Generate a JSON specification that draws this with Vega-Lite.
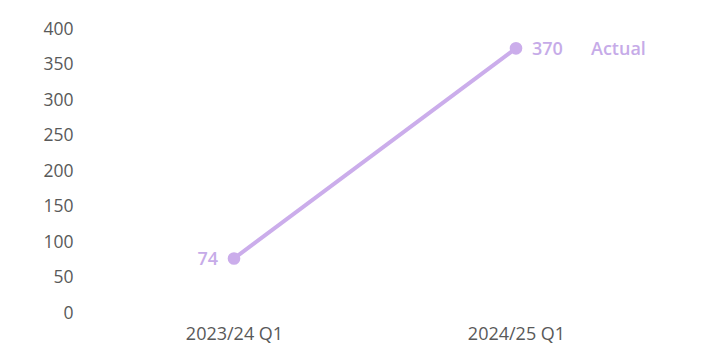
{
  "$schema": "https://vega.github.io/schema/vega-lite/v6.json",
  "autosize": {"type": "none"},
  "padding": {"left": 93, "top": 27, "right": 45, "bottom": 47},
  "width": 564,
  "height": 284,
  "background": "white",
  "config": {"view": {"stroke": null}, "font": "Open Sans"},
  "data": {"values": [
    {"quarter": "2023/24 Q1", "value": 74, "series": "Actual", "side": "left"},
    {"quarter": "2024/25 Q1", "value": 370, "series": "Actual", "side": "right"}
  ]},
  "encoding": {
    "x": {"field": "quarter", "type": "nominal", "sort": null,
      "scale": {"paddingInner": 0, "paddingOuter": 0},
      "axis": {"title": null, "domain": false, "ticks": false, "labelAngle": 0, "labelFontSize": 18, "labelColor": "#595959", "labelPadding": 14, "labelFont": "Open Sans"}},
    "y": {"field": "value", "type": "quantitative",
      "scale": {"domain": [0, 400]},
      "axis": {"title": null, "domain": false, "ticks": false, "grid": false, "values": [0,50,100,150,200,250,300,350,400], "labelFontSize": 17.5, "labelColor": "#595959", "labelPadding": 20, "labelOffset": 2, "labelFont": "Open Sans"}}
  },
  "layer": [
    {"mark": {"type": "line", "color": "#CBADEB", "strokeWidth": 4}, "encoding": {}},
    {"mark": {"type": "point", "filled": true, "color": "#CBADEB", "size": 160, "opacity": 1}, "encoding": {}},
    {"transform": [{"filter": "datum.side == 'left'"}],
     "mark": {"type": "text", "align": "right", "baseline": "middle", "dx": -16, "dy": 2, "fontSize": 18, "fontWeight": 600, "color": "#C6ABE8"},
     "encoding": {"text": {"field": "value"}}},
    {"transform": [{"filter": "datum.side == 'right'"}],
     "mark": {"type": "text", "align": "left", "baseline": "middle", "dx": 16, "dy": 2, "fontSize": 18, "fontWeight": 600, "color": "#C6ABE8"},
     "encoding": {"text": {"field": "value"}}},
    {"transform": [{"filter": "datum.side == 'right'"}],
     "mark": {"type": "text", "align": "left", "baseline": "middle", "dx": 75, "dy": 2, "fontSize": 18, "fontWeight": 600, "color": "#C6ABE8"},
     "encoding": {"text": {"field": "series"}}}
  ]
}
